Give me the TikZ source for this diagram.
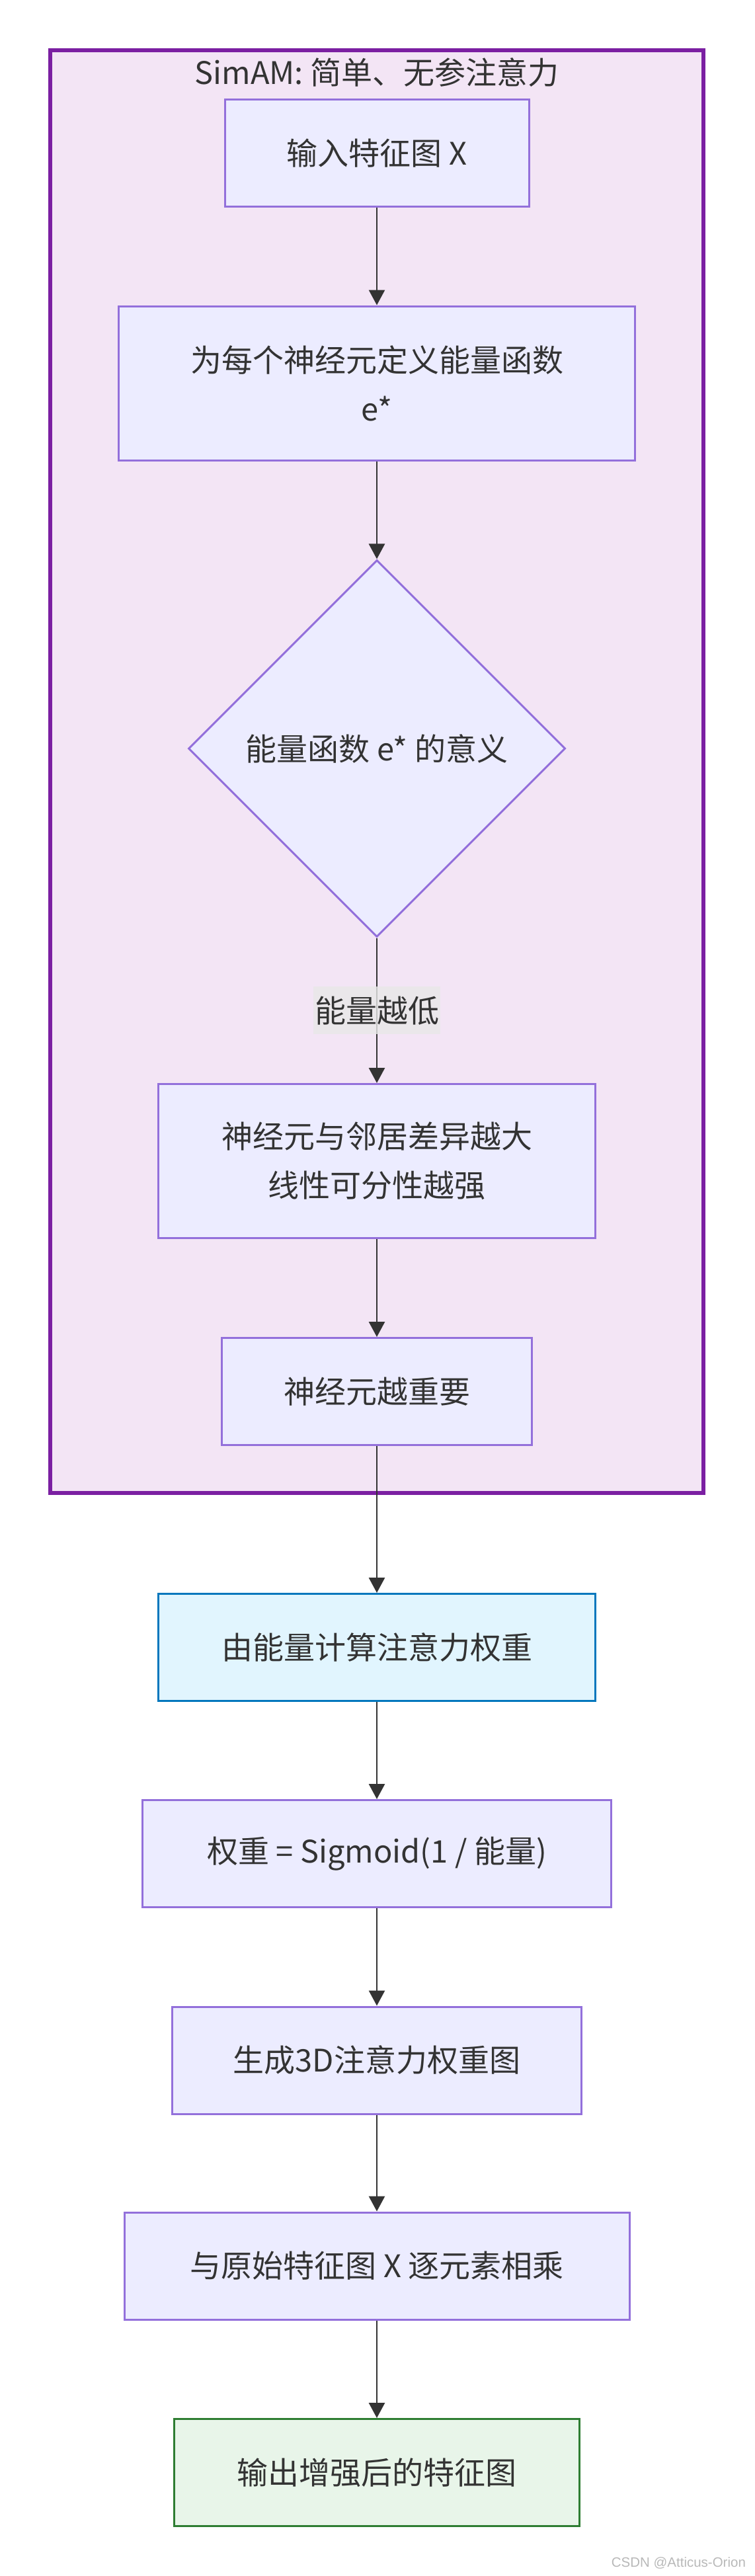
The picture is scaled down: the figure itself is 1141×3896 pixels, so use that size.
\documentclass[tikz,border=0pt]{standalone}
\usepackage{fontspec}
\setmainfont{Noto Sans CJK SC}
\newfontfamily\wmfont{Liberation Sans}
\usetikzlibrary{shapes.geometric,arrows.meta}

\definecolor{nodefill}{HTML}{ECECFF}
\definecolor{nodeline}{HTML}{9370DB}
\definecolor{groupfill}{HTML}{F3E5F5}
\definecolor{groupline}{HTML}{7B1FA2}
\definecolor{calcfill}{HTML}{E1F5FE}
\definecolor{calcline}{HTML}{0277BD}
\definecolor{outfill}{HTML}{E8F5E9}
\definecolor{outstroke}{HTML}{2E7D32}
\definecolor{txt}{HTML}{333333}
\definecolor{labelfill}{HTML}{E8E8E8}

\tikzset{
    box/.style={draw=nodeline, fill=nodefill, line width=1.5pt, text=txt, align=center,
        minimum height=81pt, inner sep=0pt, font=\fontsize{23.5}{37}\selectfont},
    tallbox/.style={box, minimum height=116.5pt},
    calcbox/.style={box, draw=calcline, fill=calcfill},
    outbox/.style={box, draw=outstroke, fill=outfill},
    decision/.style={diamond, draw=nodeline, fill=nodefill, line width=1.5pt, text=txt,
        minimum width=285pt, minimum height=285pt, inner sep=0pt, font=\fontsize{23.5}{37}\selectfont},
    flow/.style={draw=txt, line width=1.4pt, -{Triangle[length=11.5pt,width=12pt]}},
    edgelabel/.style={fill=labelfill, fill opacity=0.8, text opacity=1, text=txt,
        inner xsep=1pt, inner ysep=0pt, minimum height=36pt, font=\fontsize{23.5}{30}\selectfont},
}

\begin{document}
\begin{tikzpicture}[x=0.5pt, y=-0.5pt]
    \useasboundingbox (0,0) rectangle (1141,3896);

    % Group
    \draw[groupline, fill=groupfill, line width=3pt] (76,76) rectangle (1064,2258);
    \node[text=txt, font=\fontsize{23.5}{30}\selectfont] (title) at (570,110) {SimAM: 简单、无参注意力};

    % Inside the group
    \node[box, minimum width=230pt] (input) at (570,231.5) {输入特征图 X};
    \node[tallbox, minimum width=390.5pt] (energy) at (570,579.5) {为每个神经元定义能量函数\\e*};
    \node[decision] (meaning) at (570,1132) {能量函数 e* 的意义};
    \node[tallbox, minimum width=330.5pt] (separable) at (570,1756) {神经元与邻居差异越大\\线性可分性越强};
    \node[box, minimum width=234.5pt] (important) at (570,2104.5) {神经元越重要};

    % Below the group
    \node[calcbox, minimum width=330.5pt] (weight) at (570,2491.5) {由能量计算注意力权重};
    \node[box, minimum width=354.5pt] (sigmoid) at (570,2803.5) {权重 = Sigmoid(1 / 能量)};
    \node[box, minimum width=309.5pt] (map) at (570,3116) {生成3D注意力权重图};
    \node[box, minimum width=382pt] (multiply) at (570,3427) {与原始特征图 X 逐元素相乘};
    \node[outbox, minimum width=306.5pt] (output) at (570,3739.5) {输出增强后的特征图};

    % Arrows
    \draw[flow] (input) -- (energy);
    \draw[flow] (energy) -- (meaning);
    \draw[flow] (meaning) -- node[edgelabel] (low) {能量越低} (separable);
    \draw[flow] (separable) -- (important);
    \draw[flow] (important) -- (weight);
    \draw[flow] (weight) -- (sigmoid);
    \draw[flow] (sigmoid) -- (map);
    \draw[flow] (map) -- (multiply);
    \draw[flow] (multiply) -- (output);

    % Watermark
    \node[anchor=east, text=black!28, font=\wmfont\fontsize{10.25}{12}\selectfont] (mark) at (1135,3876) {CSDN @Atticus-Orion};
\end{tikzpicture}
\end{document}
